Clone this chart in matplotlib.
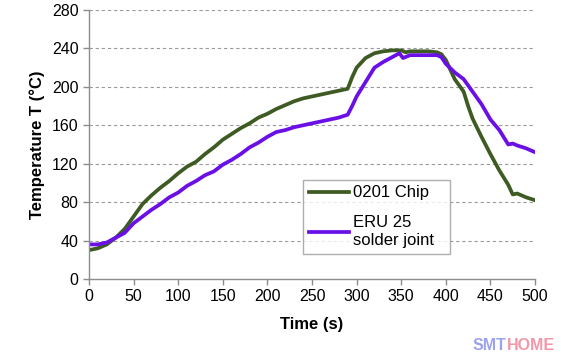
import matplotlib
matplotlib.use("Agg")
import matplotlib.pyplot as plt

plt.rcParams['font.family'] = ['Liberation Sans', 'DejaVu Sans']

# time (s) and temperature (C)
chip_t = [0, 10, 20, 30, 40, 50, 60, 70, 80, 90, 100, 110, 120, 130, 140, 150, 160, 170, 180, 190,
          200, 210, 220, 230, 240, 250, 260, 270, 280, 290, 295, 300, 310, 320, 330, 340, 350, 355,
          360, 370, 380, 390, 395, 400, 410, 420, 425, 430, 440, 450, 460, 470, 475, 480, 490, 500]
chip_T = [30, 32, 36, 43, 52, 65, 78, 87, 95, 102, 110, 117, 122, 130, 137, 145, 151, 157, 162, 168,
          172, 177, 181, 185, 188, 190, 192, 194, 196, 198, 210, 220, 230, 235, 237, 238, 238, 236,
          237, 237, 237, 236, 234, 228, 208, 195, 180, 167, 148, 130, 113, 98, 88, 89, 85, 82]

eru_t = [0, 10, 20, 30, 40, 50, 60, 70, 80, 90, 100, 110, 120, 130, 140, 150, 160, 170, 180, 190,
         200, 210, 220, 230, 240, 250, 260, 270, 280, 290, 295, 300, 310, 320, 330, 340, 348, 352,
         360, 370, 380, 390, 395, 400, 410, 420, 430, 440, 450, 460, 470, 475, 480, 490, 500]
eru_T = [36, 36, 38, 43, 48, 58, 65, 72, 78, 85, 90, 97, 102, 108, 112, 119, 124, 130, 137, 142,
         148, 153, 155, 158, 160, 162, 164, 166, 168, 171, 180, 190, 205, 220, 226, 231, 235, 230,
         233, 233, 233, 233, 231, 224, 215, 208, 195, 182, 166, 155, 140, 141, 139, 136, 132]

fig = plt.figure(figsize=(5.61, 3.56), dpi=100)
ax = fig.add_axes([0.1586, 0.2163, 0.7951, 0.7556])

ax.plot(chip_t, chip_T, color='#3e5b23', lw=2.7, label='0201 Chip', solid_joinstyle='round')
ax.plot(eru_t, eru_T, color='#6a10e6', lw=2.7, label='ERU 25\nsolder joint', solid_joinstyle='round')

ax.set_xlim(0, 500)
ax.set_ylim(0, 280)
ax.set_xticks(range(0, 501, 50))
ax.set_yticks(range(0, 281, 40))
for y in range(40, 281, 40):
    ax.axhline(y, color='#9a9a9a', lw=0.8, ls=(0, (3, 2.5)), zorder=0)

for s in ['top', 'right']:
    ax.spines[s].set_visible(False)
for s in ['left', 'bottom']:
    ax.spines[s].set_color('#8c8c8c')
    ax.spines[s].set_linewidth(1.0)
ax.tick_params(colors='#8c8c8c', labelcolor='black', labelsize=11.5, length=4, width=1.0)

ax.set_xlabel('Time (s)', fontsize=12, fontweight='bold', labelpad=9)
ax.set_ylabel('Temperature T (°C)', fontsize=12, fontweight='bold', labelpad=5)

leg = ax.legend(loc='lower left', bbox_to_anchor=(0.462, 0.063, 0.366, 0.294), mode='expand',
                fontsize=12, frameon=True, fancybox=False, handlelength=2.4,
                handletextpad=0.2, labelspacing=0.9, borderpad=0.35)
leg.get_frame().set_edgecolor('#9a9a9a')
leg.get_frame().set_linewidth(1.0)

# watermark
home = fig.text(0.989, 0.018, 'HOME', color='#f397a8', fontsize=11.5, fontweight='bold', ha='right')
ax.annotate('SMT', xy=(0, 0), xycoords=home, ha='right', va='bottom',
            color='#9da2ec', fontsize=11.5, fontweight='bold', annotation_clip=False)

fig.savefig('out.png', dpi=100)
